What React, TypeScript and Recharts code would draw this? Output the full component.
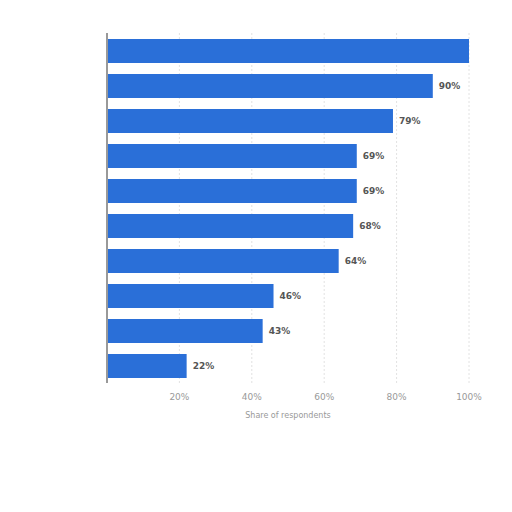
import { BarChart, Bar, XAxis, YAxis, CartesianGrid, LabelList } from 'recharts';

const categories = ['A', 'B', 'C', 'D', 'E', 'F', 'G', 'H', 'I', 'J'];
const shares = [100, 90, 79, 69, 69, 68, 64, 46, 43, 22];
const xTicks = [0, 20, 40, 60, 80, 100];

const data = categories.map((name, i) => ({ name, share: shares[i] }));

export default function App() {
  return (
    <div style={{ position: 'absolute', left: 0, top: 0, width: 512, height: 512, background: '#fff' }}>
      <BarChart
        layout="vertical"
        width={512}
        height={512}
        data={data}
        margin={{ top: 33, right: 43, left: 106, bottom: 92 }}
        barSize={24}
      >
        <CartesianGrid horizontal={false} strokeDasharray="2 2" stroke="#e2e2e2" />
        <XAxis
          type="number"
          domain={[0, 100]}
          ticks={xTicks}
          axisLine={false}
          tickLine={false}
          tick={{ fontSize: 9, fill: '#999', fontFamily: 'DejaVu Sans', dy: 3 }}
          tickFormatter={(v) => (v === 0 ? '' : `${v}%`)}
          height={37}
          label={{ value: 'Share of respondents', position: 'insideBottom', offset: 2, fontSize: 8, fill: '#999', fontFamily: 'DejaVu Sans' }}
        />
        <YAxis type="category" dataKey="name" width={1} tick={false} tickLine={false} axisLine={{ stroke: '#999', strokeWidth: 2 }} />
        <Bar dataKey="share" fill="#2a6fd8" isAnimationActive={false}>
          <LabelList
            dataKey="share"
            position="right"
            offset={6}
            formatter={(v: number) => (v === 100 ? '' : `${v}%`)}
            style={{ fontSize: 9, fill: '#555', fontWeight: 'bold', fontFamily: 'DejaVu Sans' }}
          />
        </Bar>
      </BarChart>
    </div>
  );
}
